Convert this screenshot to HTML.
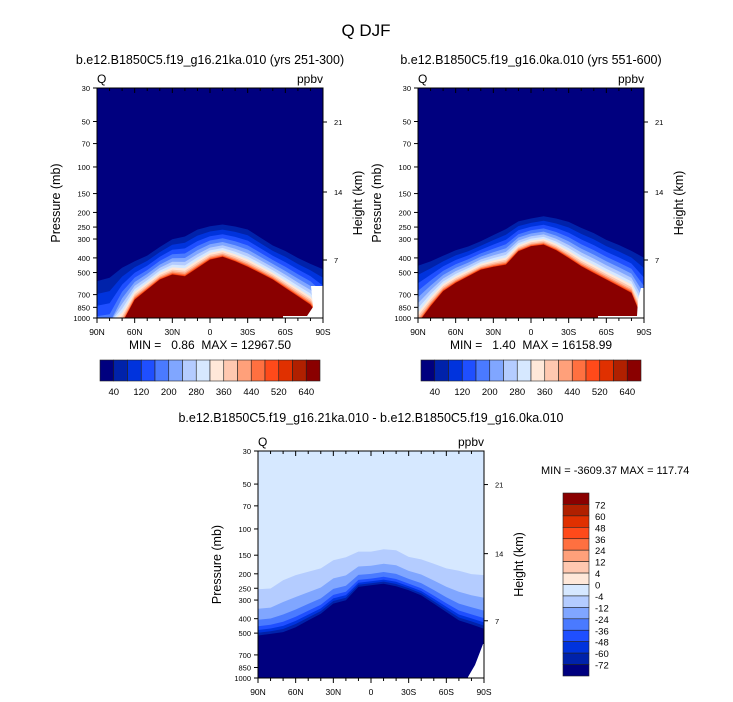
<!DOCTYPE html>
<html><head><meta charset="utf-8"><style>
body{margin:0;background:#fff;}
svg{display:block;font-family:"Liberation Sans",Arial,sans-serif;}
</style></head><body>
<svg id="fig" width="733" height="702" viewBox="0 0 733 702" xmlns="http://www.w3.org/2000/svg">
<text x="366" y="36" font-size="17" text-anchor="middle">Q DJF</text>
<text x="210" y="64" font-size="12.5" text-anchor="middle">b.e12.B1850C5.f19_g16.21ka.010 (yrs 251-300)</text>
<text x="531" y="64" font-size="12.5" text-anchor="middle">b.e12.B1850C5.f19_g16.0ka.010 (yrs 551-600)</text>
<text x="371" y="422" font-size="12.5" text-anchor="middle">b.e12.B1850C5.f19_g16.21ka.010 - b.e12.B1850C5.f19_g16.0ka.010</text>
<text x="210" y="349" font-size="12" text-anchor="middle" xml:space="preserve">MIN =   0.86  MAX = 12967.50</text>
<text x="531" y="349" font-size="12" text-anchor="middle" xml:space="preserve">MIN =   1.40  MAX = 16158.99</text>
<text x="541" y="474" font-size="11">MIN = -3609.37  MAX = 117.74</text>
<g id="layer"></g>
</svg>
<script>
const lats = [90,80,70,60,50,40,30,20,10,0,-10,-20,-30,-40,-50,-60,-70,-80,-90];
const outer1 = [459,432,401,381,353,311,274,260,235,226,221,226,235,267,303,327,362,394,411];
const inner1 = [2000,2000,1100,756,649,557,516,530,467,411,394,422,459,504,557,633,719,816,1100];
const outer2 = [387,375,353,327,311,288,260,235,212,204,197,202,210,229,247,274,295,322,335];
const inner2 = [1100,837,666,586,530,479,459,444,362,335,327,356,401,455,504,557,617,683,1100];
const outer3 = [254,251,221,204,194,184,162,155,142,142,137,139,154,160,171,184,191,201,204];
const inner3 = [519,506,492,456,411,371,317,301,245,239,233,242,258,279,317,361,411,437,468];
const pLabels = [30,50,70,100,150,200,250,300,400,500,700,850,1000];
const hLabels = [21,14,7];
const hFrac = [34/230,104/230,172/230];
const xLabels = ["90N","60N","30N","0","30S","60S","90S"];
const absColors = ["#00007f","#0022aa","#0033dd","#1f4fff","#4a7aff","#80a6ff","#b4ccff","#d6e8ff","#ffe8d9","#ffc8b0","#ffa07a","#ff7040","#ff4a1a","#e03000","#b02000","#8a0000"];
const absLabels = ["40","120","200","280","360","440","520","640"];
const diffLabels = ["72","60","48","36","24","12","4","0","-4","-12","-24","-36","-48","-60","-72"];
const diffColors = ["#8a0000","#b02000","#e03000","#ff4a1a","#ff7040","#ffa07a","#ffc8b0","#ffe8d9","#d6e8ff","#b4ccff","#80a6ff","#4a7aff","#1f4fff","#0033dd","#0022aa","#00007f"];

const NS="http://www.w3.org/2000/svg";
const layer=document.getElementById('layer');
function mk(tag,attrs,parent){const e=document.createElementNS(NS,tag);for(const k in attrs)e.setAttribute(k,attrs[k]);(parent||layer).appendChild(e);return e;}

function panel(id,x0,y0,w,h,outer,inner,bandColors,bandT,bg,whitePts){
  const g=mk('g',{});
  
  
  const xs=lat=>x0+(90-lat)/180*w;
  const ys=p=>y0+h-Math.log(1000/p)/Math.log(1000/30)*h;
  const cp=mk('clipPath',{id:id+'-clip'},g);
  mk('rect',{x:x0,y:y0,width:w,height:h},cp);
  const cg=mk('g',{'clip-path':'url(#'+id+'-clip)'},g);
  mk('rect',{x:x0,y:y0,width:w,height:h,fill:bg},cg);
  for(let k=0;k<bandT.length;k++){
    const t=bandT[k];
    let pts=lats.map((lat,i)=>{
      const lp=Math.log(outer[i])+t*(Math.log(inner[i])-Math.log(outer[i]));
      const y=Math.min(ys(Math.exp(lp)),y0+h+5);
      return xs(lat).toFixed(1)+','+y.toFixed(1);
    });
    pts.push((x0+w+5)+','+(y0+h+5));pts.push((x0-5)+','+(y0+h+5));
    const poly=mk('polygon',{points:pts.join(' '),fill:bandColors[k]},cg);
    
    
  }
  mk('polygon',{points:whitePts,fill:'#fff'},cg);
  mk('rect',{x:x0,y:y0,width:w,height:h,fill:'none',stroke:'#000','stroke-width':1},g);
  // pressure ticks
  pLabels.forEach(p=>{
    const y=ys(p);
    mk('line',{x1:x0-4,x2:x0,y1:y,y2:y,stroke:'#000'},g);
    const t=mk('text',{x:x0-7,y:y+3,'font-size':7.5,'text-anchor':'end'},g);t.textContent=p;
    
    
  });
  hLabels.forEach((hv,i)=>{
    const y=y0+hFrac[i]*h;
    mk('line',{x1:x0+w,x2:x0+w+4,y1:y,y2:y,stroke:'#000'},g);
    const t=mk('text',{x:x0+w+11,y:y+3,'font-size':7.5},g);t.textContent=hv;
    
    
  });
  for(let lat=90;lat>=-90;lat-=10){
    const x=xs(lat);const major=lat%30===0;const L=major?5:3;
    mk('line',{x1:x,x2:x,y1:y0+h,y2:y0+h+L,stroke:'#000'},g);
    mk('line',{x1:x,x2:x,y1:y0,y2:y0+L,stroke:'#000'},g);
  }
  xLabels.forEach((s,i)=>{
    const t=mk('text',{x:x0+i*w/6,y:y0+h+17,'font-size':8.5,'text-anchor':'middle'},g);t.textContent=s;
    
    
  });
  let t=mk('text',{x:x0,y:y0-5,'font-size':12},g);t.textContent='Q';
  t=mk('text',{x:x0+w,y:y0-5,'font-size':12,'text-anchor':'end'},g);t.textContent='ppbv';
  t=mk('text',{transform:`translate(${x0-37},${y0+h/2}) rotate(-90)`,'font-size':12.5,'text-anchor':'middle'},g);t.textContent='Pressure (mb)';
  
  
  t=mk('text',{transform:`translate(${x0+w+39},${y0+h/2}) rotate(-90)`,'font-size':12.5,'text-anchor':'middle'},g);t.textContent='Height (km)';
  
  
}
const absT=[];for(let k=1;k<=15;k++)absT.push(1-Math.pow(1-k/15,2.3));
const absBand=absColors.slice(1);
panel('panel1',97,88,226,230,outer1,inner1,absBand,absT,'#00007f','311,286 330,286 330,330 307,330 307,318 283,318 283,316 307,316 313,307');
panel('panel2',418,88,226,230,outer2,inner2,absBand,absT,'#00007f','641,288 650,288 650,330 598,330 598,316 637,316 638,300');
const diffT=[0,0.42,0.66,0.8,0.88,0.94,1];
panel('panel3',258,451,226,227,outer3,inner3,['#b4ccff','#80a6ff','#4a7aff','#1f4fff','#0033dd','#0022aa','#00007f'],diffT,'#d6e8ff','483,644 490,644 490,690 468,690 468,677 475,665 480,652');

function hbar(name,x0,y0){
  const g=mk('g',{});
  
  
  const bw=220/absColors.length;
  absColors.forEach((c,i)=>{
    const r=mk('rect',{x:x0+i*bw,y:y0,width:bw,height:21,fill:c,stroke:'#222','stroke-width':0.6},g);
    
    
  });
  absLabels.forEach((s,i)=>{
    const t=mk('text',{x:x0+(1+2*i)*bw,y:y0+35,'font-size':9.5,'text-anchor':'middle'},g);t.textContent=s;
    
    
  });
}
hbar('colorbar-panel1',100,360);
hbar('colorbar-panel2',421,360);
(function(){
  const g=mk('g',{});
  
  
  const x0=563,y0=493,bh=183/diffColors.length;
  diffColors.forEach((c,i)=>{
    const r=mk('rect',{x:x0,y:y0+i*bh,width:26,height:bh,fill:c,stroke:'#222','stroke-width':0.6},g);
    
    
  });
  diffLabels.forEach((s,i)=>{
    const t=mk('text',{x:x0+32,y:y0+(i+1)*bh+4,'font-size':9.5},g);t.textContent=s;
    
    
  });
})();
</script>
</body></html>
